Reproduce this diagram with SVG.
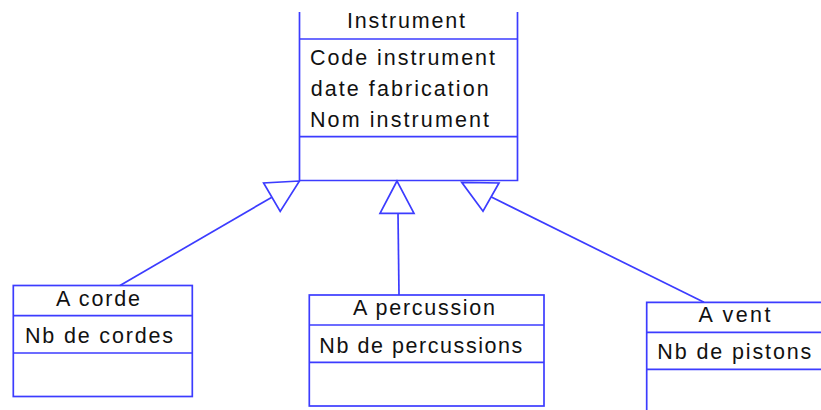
<svg xmlns="http://www.w3.org/2000/svg" width="821" height="410" viewBox="0 0 821 410">
<style>
.ln{fill:none;stroke:#3c3cff;stroke-width:1.7}
.tri{fill:#fff;stroke:#3c3cff;stroke-width:1.7;stroke-linejoin:miter}
text{font-family:"Liberation Sans",Arial,sans-serif;font-size:21.5px;fill:#111}
.c{text-anchor:middle}
</style>
<rect width="821" height="410" fill="#fff"/>
<g id="connectors">
<line class="ln" x1="120" y1="285.5" x2="271.9" y2="197.2"/>
<line class="ln" x1="398" y1="213" x2="399" y2="295"/>
<line class="ln" x1="704" y1="302.3" x2="490.4" y2="196.6"/>
<polygon class="tri" points="299.5,181 263.6,183 280.2,211.4"/>
<polygon class="tri" points="397,181 380,213.3 414,213.3"/>
<polygon class="tri" points="461.7,182.3 499,183 483,211.2"/>
</g>
<g id="instrument">
<path class="ln" d="M299.5,12 V180.5 H517.5 V12 M299.5,39 H517.5 M299.5,136.7 H517.5"/>
<text class="c" x="406" y="28.3" textLength="118" lengthAdjust="spacing">Instrument</text>
<text x="310" y="65" textLength="185" lengthAdjust="spacing">Code instrument</text>
<text x="310.7" y="96" textLength="178" lengthAdjust="spacing">date fabrication</text>
<text x="310" y="126.5" textLength="179" lengthAdjust="spacing">Nom instrument</text>
</g>
<g id="a-corde">
<rect class="ln" x="13.3" y="285.5" width="179" height="111"/>
<path class="ln" d="M13.3,315.7 H192.3 M13.3,353 H192.3"/>
<text class="c" x="98" y="306" textLength="84" lengthAdjust="spacing">A corde</text>
<text x="25" y="343.3" textLength="148" lengthAdjust="spacing">Nb de cordes</text>
</g>
<g id="a-percussion">
<rect class="ln" x="309.3" y="295" width="234.7" height="111"/>
<path class="ln" d="M309.3,325 H544 M309.3,362.3 H544"/>
<text class="c" x="424" y="315" textLength="142" lengthAdjust="spacing">A percussion</text>
<text x="319.3" y="353.3" textLength="203" lengthAdjust="spacing">Nb de percussions</text>
</g>
<g id="a-vent">
<path class="ln" d="M646.7,410 V302.3 H822 M646.7,332.3 H822 M646.7,369.3 H822"/>
<text class="c" x="734.5" y="321.7" textLength="72" lengthAdjust="spacing">A vent</text>
<text x="657.3" y="359" textLength="154" lengthAdjust="spacing">Nb de pistons</text>
</g>
</svg>
